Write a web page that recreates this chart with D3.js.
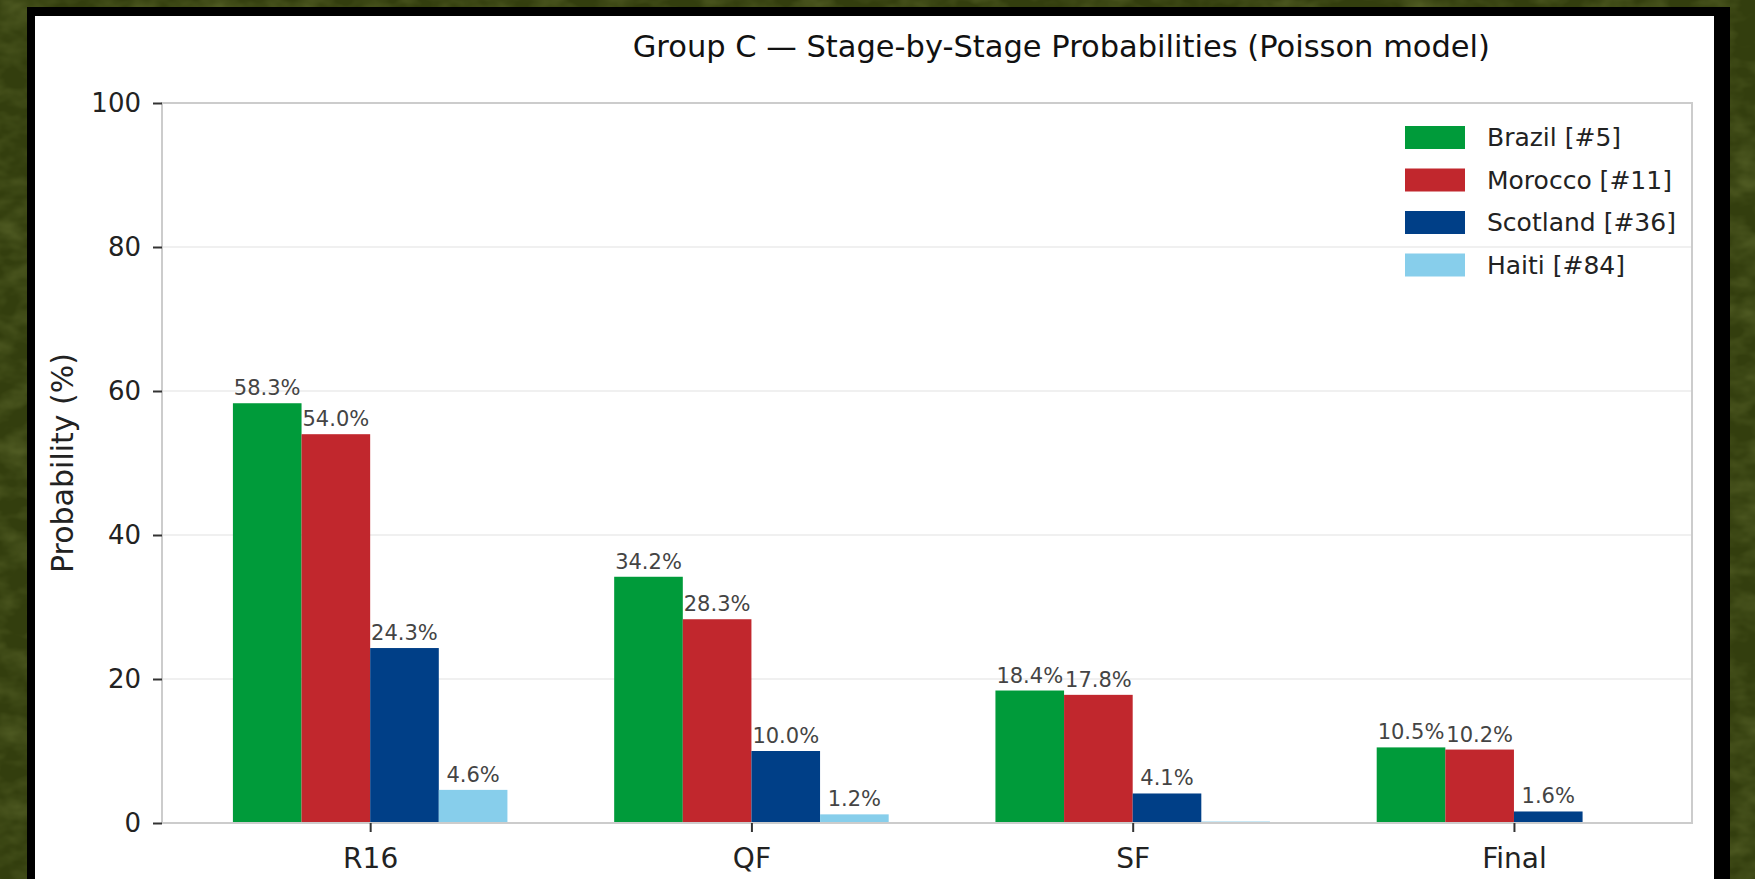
<!DOCTYPE html>
<html>
<head>
<meta charset="utf-8">
<script src="https://cdn.jsdelivr.net/npm/d3@7"></script>
<style>
  html, body { margin:0; padding:0; background:#3a4511; overflow:hidden; }
  text { font-family: "DejaVu Sans", sans-serif; }
</style>
</head>
<body>
<div class="visHolder"></div>
<script>
var width = 1755,
    height = 879;

// data
var stages = ['R16', 'QF', 'SF', 'Final'];
var teams = ['Brazil [#5]', 'Morocco [#11]', 'Scotland [#36]', 'Haiti [#84]'];
var colors = ['#009b3a', '#c1272d', '#003f87', '#87ceeb'];
var brazil = [58.3, 34.2, 18.4, 10.5];
var morocco = [54.0, 28.3, 17.8, 10.2];
var scotland = [24.3, 10.0, 4.1, 1.6];
var haiti = [4.6, 1.2, 0.2, 0.0];
var yTicks = [0, 20, 40, 60, 80, 100];

var series = [brazil, morocco, scotland, haiti];
var barW = 0.18;

var plot = { left: 162, right: 1692, top: 103, bottom: 823 };

var svg = d3.select('.visHolder')
  .append('svg')
  .attr('width', width)
  .attr('height', height);

// grass background + black frame + white panel
var defs = svg.append('defs');
var f = defs.append('filter').attr('id', 'grass').attr('x', 0).attr('y', 0).attr('width', 1).attr('height', 1);
f.append('feTurbulence').attr('type', 'fractalNoise').attr('baseFrequency', '0.03 0.05').attr('numOctaves', 3).attr('seed', 4);
f.append('feColorMatrix').attr('type', 'matrix')
  .attr('values', '0 0 0 0 0.24  0 0 0 0 0.29  0 0 0 0 0.07  0 0 0 -1.4 0.9');

svg.append('rect').attr('width', width).attr('height', height).attr('fill', '#333e0e');
svg.append('rect').attr('width', width).attr('height', height).attr('filter', 'url(#grass)').attr('opacity', 0.45);
svg.append('rect').attr('x', 27).attr('y', 7).attr('width', 1703).attr('height', 900).attr('fill', '#000');
svg.append('rect').attr('x', 35).attr('y', 16).attr('width', 1679).attr('height', 900).attr('fill', '#fff');

var xScale = d3.scaleLinear()
  .domain([-0.546, 3.467])
  .range([plot.left, plot.right]);

var yScale = d3.scaleLinear()
  .domain([0, 100])
  .range([plot.bottom, plot.top]);

// grid
svg.append('g')
  .selectAll('line')
  .data(yTicks.slice(1, -1))
  .enter()
  .append('line')
  .attr('x1', plot.left).attr('x2', plot.right)
  .attr('y1', d => yScale(d)).attr('y2', d => yScale(d))
  .attr('stroke', '#ebebeb')
  .attr('stroke-width', 1.5);

// bars
series.forEach(function (vals, j) {
  var off = (j - 1.5) * barW;
  svg.append('g')
    .selectAll('rect')
    .data(vals)
    .enter()
    .append('rect')
    .attr('x', (d, i) => xScale(i + off - barW / 2))
    .attr('y', d => yScale(d))
    .attr('width', xScale(barW) - xScale(0))
    .attr('height', d => yScale(0) - yScale(d))
    .attr('fill', colors[j]);

  svg.append('g')
    .selectAll('text')
    .data(vals)
    .enter()
    .filter(d => d >= 0.5)
    .append('text')
    .attr('x', (d, i) => xScale(i + off))
    .attr('y', d => yScale(d) - 8)
    .attr('text-anchor', 'middle')
    .attr('font-size', 21)
    .attr('fill', '#444')
    .text(d => d.toFixed(1) + '%');
});

// spines
svg.append('rect')
  .attr('x', plot.left).attr('y', plot.top)
  .attr('width', plot.right - plot.left)
  .attr('height', plot.bottom - plot.top)
  .attr('fill', 'none')
  .attr('stroke', '#cccccc')
  .attr('stroke-width', 2);

// axes
var yAxis = d3.axisLeft(yScale).tickValues(yTicks).tickSize(9).tickPadding(12);
var gy = svg.append('g')
  .attr('transform', 'translate(' + plot.left + ',0)')
  .call(yAxis);
gy.select('.domain').remove();
gy.selectAll('line').attr('stroke', '#333').attr('stroke-width', 2);
gy.selectAll('text').attr('font-size', 26).attr('fill', '#222');

var xAxis = d3.axisBottom(xScale)
  .tickValues(d3.range(stages.length))
  .tickFormat((d, i) => stages[i])
  .tickSize(9).tickPadding(16);
var gx = svg.append('g')
  .attr('transform', 'translate(0,' + plot.bottom + ')')
  .call(xAxis);
gx.select('.domain').remove();
gx.selectAll('line').attr('stroke', '#333').attr('stroke-width', 2);
gx.selectAll('text').attr('font-size', 28).attr('fill', '#222');

// y label
svg.append('text')
  .attr('transform', 'translate(73,' + (plot.top + plot.bottom) / 2 + ') rotate(-90)')
  .attr('text-anchor', 'middle')
  .attr('font-size', 30)
  .attr('fill', '#222')
  .text('Probability (%)');

// title
svg.append('text')
  .attr('x', 1490)
  .attr('y', 57)
  .attr('text-anchor', 'end')
  .attr('font-size', 30.5)
  .attr('fill', '#111')
  .text('Group C \u2014 Stage-by-Stage Probabilities (Poisson model)');

// legend
var legend = svg.append('g')
  .selectAll('g')
  .data(teams)
  .enter()
  .append('g')
  .attr('transform', (d, i) => 'translate(1405,' + (126 + i * 42.5) + ')');
legend.append('rect')
  .attr('width', 60).attr('height', 23)
  .attr('fill', (d, i) => colors[i]);
legend.append('text')
  .attr('x', 82).attr('y', 11.5)
  .attr('dominant-baseline', 'central')
  .attr('font-size', 25)
  .attr('fill', '#222')
  .text(d => d);
</script>
</body>
</html>
